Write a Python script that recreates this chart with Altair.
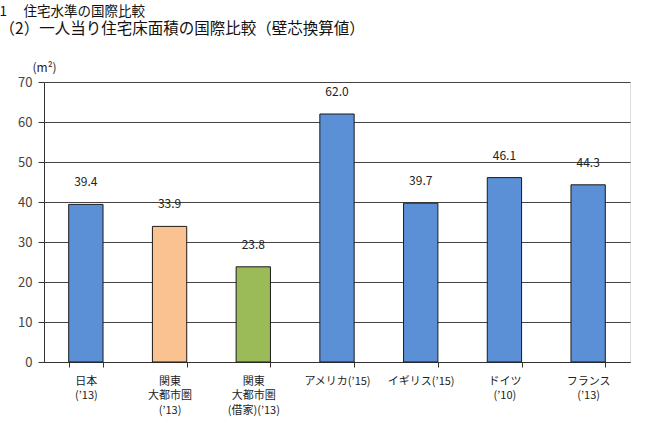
import altair as alt
import pandas as pd

categories = ["日本\n(’13)", "関東\n大都市圏\n(’13)", "関東\n大都市圏\n(借家)(’13)",
              "アメリカ(’15)", "イギリス(’15)", "ドイツ\n(’10)", "フランス\n(’13)"]
values = [39.4, 33.9, 23.8, 62.0, 39.7, 46.1, 44.3]
colors = ["#5B8FD6", "#FAC191", "#9BBB59", "#5B8FD6", "#5B8FD6", "#5B8FD6", "#5B8FD6"]
y_ticks = [0, 10, 20, 30, 40, 50, 60, 70]

df = pd.DataFrame({"cat": categories, "value": values, "color": colors})
df["label"] = df["value"].map(lambda v: f"{v:.1f}")

FONT = "Noto Sans CJK JP"

x = alt.X("cat:N", sort=categories,
          scale=alt.Scale(paddingInner=0.59, paddingOuter=0.295),
          axis=alt.Axis(title=None, labelAngle=0, labelExpr="split(datum.label, '\\n')",
                        labelFontSize=11, labelLineHeight=14.5, labelPadding=8,
                        labelColor="#222", labelFont=FONT, ticks=True, tickSize=5,
                        tickColor="#333", domainColor="#333", labelBaseline="top",
                        tickBand="extent"))
y = alt.Y("value:Q", scale=alt.Scale(domain=[0, 70], nice=False),
          axis=alt.Axis(values=y_ticks, labelOverlap=False, title="(m²)", titleAngle=0,
                        titleX=-12, titleY=-8,
                        titleAlign="left", titleFontWeight="normal", titleFontSize=12,
                        titleFont=FONT, titleColor="#222", titleBaseline="bottom",
                        labelFontSize=13, labelColor="#444", labelFont=FONT,
                        tickSize=6, tickColor="#333", domainColor="#333",
                        gridColor="#444", gridWidth=1, labelPadding=6))

base = alt.Chart(df).encode(x=x, y=y)

bars = base.mark_bar(stroke="#1a1a1a", strokeWidth=1).encode(
    color=alt.Color("color:N", scale=None))

text = base.mark_text(dy=-22, fontSize=12, font=FONT, color="#222").encode(text="label:N")

chart = (bars + text).properties(
    width=586, height=280,
    title=alt.TitleParams("1　 住宅水準の国際比較",
                          subtitle="（2）一人当り住宅床面積の国際比較（壁芯換算値）",
                          anchor="start", fontSize=13.5, fontWeight="normal", font=FONT,
                          color="#111", subtitleFont=FONT, subtitleFontSize=15.5,
                          subtitleColor="#111", subtitlePadding=3,
                          offset=24, dx=-18),
    padding={"left": 44, "top": 82, "right": 20, "bottom": 68},
    autosize=alt.AutoSizeParams(type="none"),
).configure_view(stroke="#333", strokeWidth=1).configure(background="white")

chart.save("out.html", embed_options={"renderer": "svg", "actions": False})
